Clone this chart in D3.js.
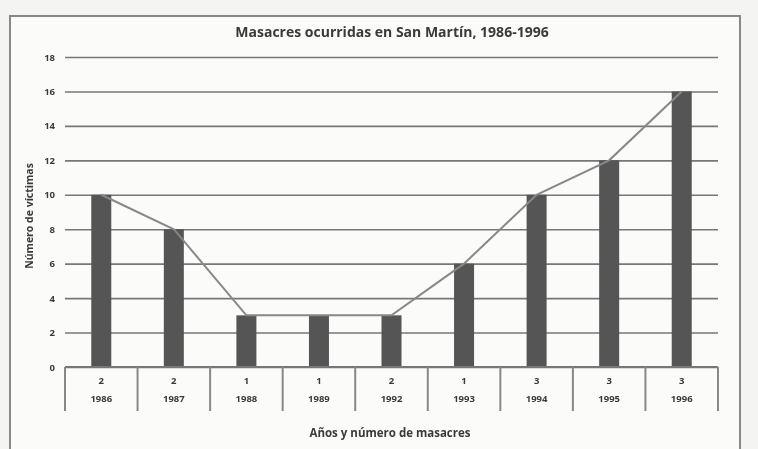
<!DOCTYPE html>
<html>
<head>
<meta charset="utf-8">
<script src="https://cdn.jsdelivr.net/npm/d3@7"></script>
<style>
  body { margin: 0; background: #f4f4f2; }
  svg { display: block; filter: blur(0.6px); }
  text { font-family: "Open Sans", "Liberation Sans", sans-serif; font-weight: bold; fill: #3a3a3a; }
</style>
</head>
<body>
<div id="chart"></div>
<script>
// Data
const years = ["1986", "1987", "1988", "1989", "1992", "1993", "1994", "1995", "1996"];
const massacres = [2, 2, 1, 1, 2, 1, 3, 3, 3];
const victims = [10, 8, 3, 3, 3, 6, 10, 12, 16];
const yTicks = [0, 2, 4, 6, 8, 10, 12, 14, 16, 18];

const width = 758, height = 449;
const margin = {top: 57, right: 40, bottom: 82, left: 65};

let svg = d3.select("#chart")
  .append("svg")
  .attr("width", width)
  .attr("height", height);

// outer frame of the scanned chart
svg.append("rect")
  .attr("x", 10).attr("y", 16)
  .attr("width", 730).attr("height", 450)
  .attr("fill", "#fbfbfa")
  .attr("stroke", "#888")
  .attr("stroke-width", 2);

let yScale = d3.scaleLinear()
  .domain([0, 18])
  .range([height - margin.bottom, margin.top]);

let xScale = d3.scaleBand()
  .domain(years)
  .range([margin.left, width - margin.right])
  .paddingInner(0);

// gridlines
svg.append("g")
  .attr("transform", `translate(${margin.left}, 0)`)
  .call(d3.axisLeft(yScale).tickValues(yTicks).tickSize(-(width - margin.left - margin.right)).tickPadding(10))
  .call(g => g.select(".domain").remove())
  .call(g => g.selectAll(".tick line").attr("stroke", "#777").attr("stroke-width", 1.6))
  .call(g => g.selectAll(".tick text").attr("font-size", "9.5px").attr("fill", "#3a3a3a"));

// bars
svg.selectAll(".bar")
  .data(victims)
  .enter()
  .append("rect")
    .attr("class", "bar")
    .attr("x", (d, i) => xScale(years[i]) + xScale.bandwidth() / 2 - 10)
    .attr("y", d => yScale(d))
    .attr("width", 20)
    .attr("height", d => yScale(0) - yScale(d))
    .attr("fill", "#555");

// line through bar tops
let line = d3.line()
  .x((d, i) => xScale(years[i]) + xScale.bandwidth() / 2)
  .y(d => yScale(d));

svg.append("path")
  .datum(victims)
  .attr("d", line)
  .attr("fill", "none")
  .attr("stroke", "#888")
  .attr("stroke-width", 2);

// category table under the axis
let y0 = yScale(0);
svg.append("line")
  .attr("x1", margin.left).attr("x2", width - margin.right)
  .attr("y1", y0).attr("y2", y0)
  .attr("stroke", "#777").attr("stroke-width", 2);

svg.selectAll(".divider")
  .data(years.concat(["end"]))
  .enter()
  .append("line")
    .attr("class", "divider")
    .attr("x1", (d, i) => i < years.length ? xScale(d) : width - margin.right)
    .attr("x2", (d, i) => i < years.length ? xScale(d) : width - margin.right)
    .attr("y1", y0)
    .attr("y2", y0 + 44)
    .attr("stroke", "#888")
    .attr("stroke-width", 2);

svg.selectAll(".count")
  .data(massacres)
  .enter()
  .append("text")
    .attr("class", "count")
    .attr("x", (d, i) => xScale(years[i]) + xScale.bandwidth() / 2)
    .attr("y", y0 + 17)
    .attr("text-anchor", "middle")
    .attr("font-size", "9.5px")
    .text(d => d);

svg.selectAll(".year")
  .data(years)
  .enter()
  .append("text")
    .attr("class", "year")
    .attr("x", d => xScale(d) + xScale.bandwidth() / 2)
    .attr("y", y0 + 35)
    .attr("text-anchor", "middle")
    .attr("font-size", "9.5px")
    .text(d => d);

// title and axis labels
svg.append("text")
  .attr("x", 392).attr("y", 37)
  .attr("text-anchor", "middle")
  .attr("font-size", "14px")
  .text("Masacres ocurridas en San Martín, 1986-1996");

svg.append("text")
  .attr("x", 390).attr("y", 437)
  .attr("text-anchor", "middle")
  .attr("font-size", "11.5px")
  .text("Años y número de masacres");

svg.append("text")
  .attr("transform", "translate(33, 216) rotate(-90)")
  .attr("text-anchor", "middle")
  .attr("font-size", "10.5px")
  .text("Número de víctimas");
</script>
</body>
</html>
